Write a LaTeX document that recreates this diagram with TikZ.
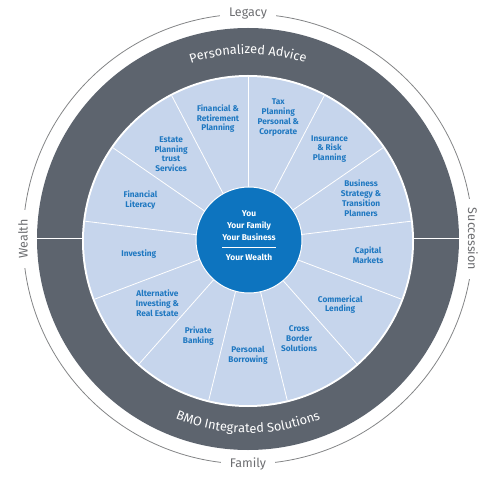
\documentclass[tikz,border=0pt]{standalone}
\usepackage{fontspec}
\setmainfont{Fira Sans}
\usetikzlibrary{decorations.text}
\definecolor{BmoRing}{HTML}{5D646E}
\definecolor{BmoPale}{HTML}{C6D5EC}
\definecolor{BmoBlue}{HTML}{0D74BF}
\definecolor{BmoText}{HTML}{1F78C1}
\definecolor{BmoGrey}{HTML}{6D6E71}

\begin{document}
\begin{tikzpicture}[x=1pt, y=1pt,
   seg/.style={text=BmoText, font=\fontsize{8.3}{9.8}\selectfont\bfseries,
               align=center, inner sep=0pt},
   rim/.style={text=BmoGrey, font=\fontsize{12.5}{14}\selectfont, fill=white,
               inner xsep=9pt, inner ysep=2pt},
   core/.style={text=white, font=\fontsize{8.4}{10}\selectfont\bfseries, inner sep=0pt},
   spoke/.style={white, line width=0.8pt}]
  \useasboundingbox (-248,-237) rectangle (249,239);
  % duenner Aussenring mit Luecken fuer die Woerter
  \draw[BmoGrey!85, line width=0.8pt] (0,0) circle (225);
  \node[rim] (legacy) at (90:225) {Legacy};
  \node[rim] (family) at (-90:225) {Family};
  \node[rim, rotate=90] (wealth) at (180:225) {Wealth};
  \node[rim, rotate=-90] (succession) at (0:225) {Succession};
  % dunkler Ring, oben und unten getrennt
  \fill[BmoRing] (0,0) circle (211);
  \draw[white, line width=1pt] (-212,0) -- (212,0);
  \fill[white] (0,-2) circle (166);
  \fill[BmoPale] (0,-2) circle (164);
  \path[decorate, decoration={text along path, text align=center,
        text={|\color{white}\fontsize{12.8}{14}\selectfont|Personalized Advice}}]
    (150:185) arc (150:30:185);
  \path[decorate, decoration={text along path, text align=center,
        text={|\color{white}\fontsize{12.8}{14}\selectfont|BMO Integrated Solutions}}]
    (227:194) arc (227:313:194);
  % 13 Segmente
  \foreach \k in {0,...,12}
    \draw[spoke] (0,-2) -- ++({90-\k*360/13}:164);
  \foreach \ang/\rad/\txt [count=\i] in {
      103.8/126/{Financial \&\\Retirement\\Planning},
      76.2/127/{Tax\\Planning\\Personal \&\\Corporate},
      48.5/123/{Insurance\\\& Risk\\Planning},
      20.8/121/{Business\\Strategy \&\\Transition\\Planners},
      -6.9/121/{Capital\\Markets},
      -34.6/112/{Commerical\\Lending},
      -62.3/110/{Cross\\Border\\Solutions},
      -90/114/{Personal\\Borrowing},
      -117.7/107/{Private\\Banking},
      -145.4/110/{Alternative\\Investing \&\\Real Estate},
      -173.1/110/{Investing},
      159.2/115/{Financial\\Literacy},
      131.5/116/{Estate\\Planning\\trust\\Services}}
    \node[seg] (seg\i) at ([shift={(0,-2)}]\ang:\rad) {\txt};
  % Mitte
  \node[circle, fill=BmoBlue, draw=white, line width=1pt, minimum size=106pt] (hub) at (1,-1) {};
  \node[core] (you) at (1,25) {You};
  \node[core] (family2) at (1,13) {Your Family};
  \node[core] (business) at (1,1.5) {Your Business};
  \draw[white, line width=0.7pt] ([xshift=-27pt]hub.center |- 0,-8) -- ([xshift=27pt]hub.center |- 0,-8);
  \node[core] (wealth2) at (1,-18.5) {Your Wealth};
\end{tikzpicture}
\end{document}
